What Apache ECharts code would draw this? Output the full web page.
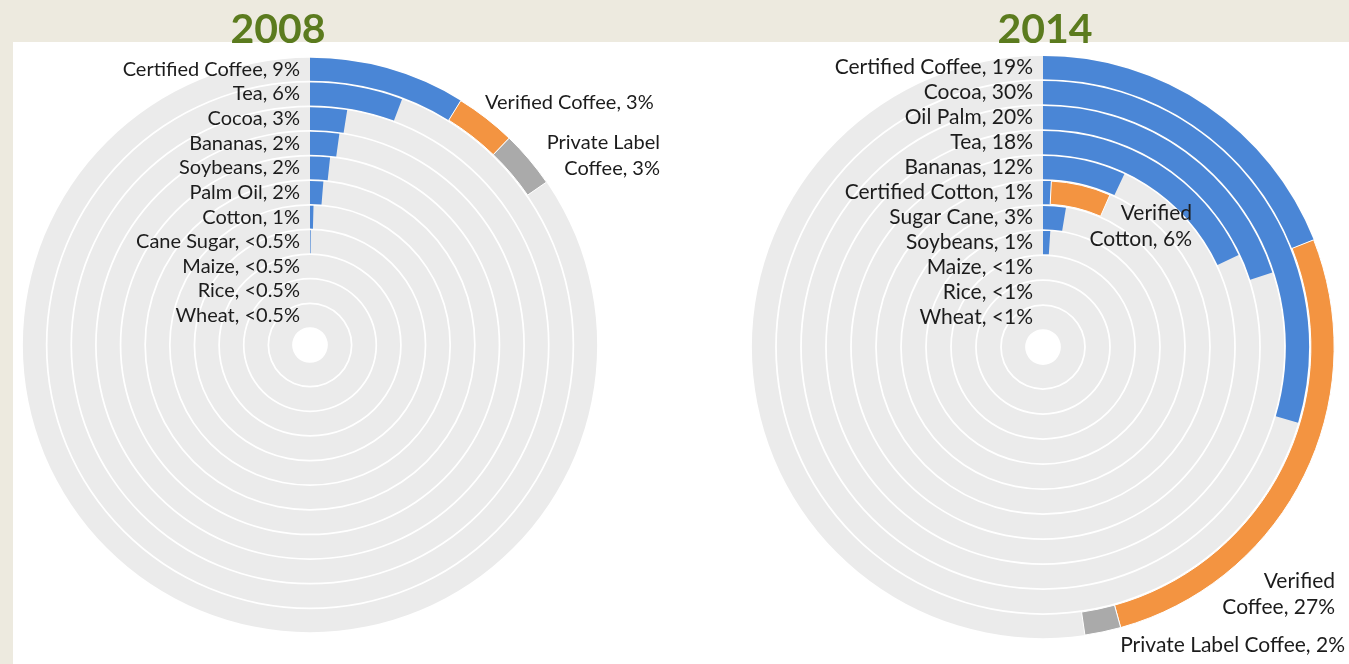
<!DOCTYPE html>
<html>
<head>
<meta charset="utf-8">
<script src="https://cdn.jsdelivr.net/npm/echarts@6/dist/echarts.min.js"></script>
<style>
  html, body { margin: 0; padding: 0; background: #edeadf; }
  #panel { position: absolute; left: 13px; top: 42px; right: 0; bottom: 0; background: #fff; }
  #main { position: absolute; left: 0; top: 0; width: 1349px; height: 664px; }
</style>
</head>
<body>
<div id="panel"></div>
<div id="main"></div>
<script>
// 2008 rings, outermost first
const cats2008 = ['Certified Coffee', 'Tea', 'Cocoa', 'Bananas', 'Soybeans', 'Palm Oil', 'Cotton', 'Cane Sugar', 'Maize', 'Rice', 'Wheat']
const shown2008 = ['9%', '6%', '3%', '2%', '2%', '2%', '1%', '<0.5%', '<0.5%', '<0.5%', '<0.5%']
const certified2008 = [8.8, 5.7, 2.5, 2.2, 1.7, 1.3, 0.4, 0.1, 0, 0, 0]
const verified2008 = [3.4, 0, 0, 0, 0, 0, 0, 0, 0, 0, 0]
const privateLabel2008 = [3.2, 0, 0, 0, 0, 0, 0, 0, 0, 0, 0]

// 2014 rings, outermost first
const cats2014 = ['Certified Coffee', 'Cocoa', 'Oil Palm', 'Tea', 'Bananas', 'Certified Cotton', 'Sugar Cane', 'Soybeans', 'Maize', 'Rice', 'Wheat']
const shown2014 = ['19%', '30%', '20%', '18%', '12%', '1%', '3%', '1%', '<1%', '<1%', '<1%']
const certified2014 = [19, 29.6, 20, 18, 7, 0.8, 2.6, 1, 0, 0, 0]
const verified2014 = [26.7, 0, 0, 0, 0, 5.8, 0, 0, 0, 0, 0]
const privateLabel2014 = [2, 0, 0, 0, 0, 0, 0, 0, 0, 0, 0]

const BLUE = '#4a86d6'
const ORANGE = '#f39441'
const GRAY = '#aaaaaa'
const RING = '#ebebeb'
const FONT = 'Lato'

const chart = echarts.init(document.getElementById('main'))

const angleAxis = (i) => ({
  polarIndex: i,
  type: 'value',
  min: 0,
  max: 100,
  startAngle: 90,
  show: false
})

const radiusAxis = (i, cats, shown, size) => ({
  polarIndex: i,
  type: 'category',
  data: cats,
  inverse: true,
  axisLine: { show: false },
  axisTick: { show: false },
  splitLine: { show: false },
  axisLabel: {
    interval: 0,
    margin: 10,
    color: '#1c1c1c',
    fontFamily: FONT,
    fontSize: size,
    formatter: (v, idx) => v + ', ' + shown[idx]
  },
  z: 5
})

// first series of each ring carries the grey full-circle track
const bar = (i, name, data, color, track) => ({
  type: 'bar',
  name: name,
  coordinateSystem: 'polar',
  polarIndex: i,
  stack: 'ring' + i,
  barCategoryGap: '7%',
  data: data,
  showBackground: track,
  backgroundStyle: { color: RING },
  itemStyle: track ? { color: color } : { color: color, borderColor: '#fff', borderWidth: 1 },
  silent: true,
  animation: false
})

const text = (x, y, str, align, size, extra) => ({
  type: 'text',
  z: 100,
  style: Object.assign({
    x: x,
    y: y,
    text: str,
    textAlign: align,
    textVerticalAlign: 'middle',
    fill: '#1c1c1c',
    font: size + 'px ' + FONT,
    lineHeight: 26
  }, extra || {})
})

chart.setOption({
  animation: false,
  polar: [
    { center: [310, 345], radius: [17, 288] },
    { center: [1043, 347], radius: [17, 292] }
  ],
  angleAxis: [angleAxis(0), angleAxis(1)],
  radiusAxis: [radiusAxis(0, cats2008, shown2008, 20), radiusAxis(1, cats2014, shown2014, 21)],
  series: [
    bar(0, 'Certified', certified2008, BLUE, true),
    bar(0, 'Verified', verified2008, ORANGE, false),
    bar(0, 'Private Label', privateLabel2008, GRAY, false),
    bar(1, 'Certified', certified2014, BLUE, true),
    bar(1, 'Verified', verified2014, ORANGE, false),
    bar(1, 'Private Label', privateLabel2014, GRAY, false)
  ],
  graphic: [
    text(278, 30, '2008', 'center', 41, { fill: '#5b7b1e', font: 'bold 41px ' + FONT }),
    text(1045, 30, '2014', 'center', 41, { fill: '#5b7b1e', font: 'bold 41px ' + FONT }),
    text(485, 103, 'Verified Coffee, 3%', 'left', 20),
    text(660, 156, 'Private Label\nCoffee, 3%', 'right', 20),
    text(1192, 226, 'Verified\nCotton, 6%', 'right', 21),
    text(1335, 594, 'Verified\nCoffee, 27%', 'right', 21),
    text(1345, 645, 'Private Label Coffee, 2%', 'right', 21)
  ]
})
</script>
</body>
</html>
